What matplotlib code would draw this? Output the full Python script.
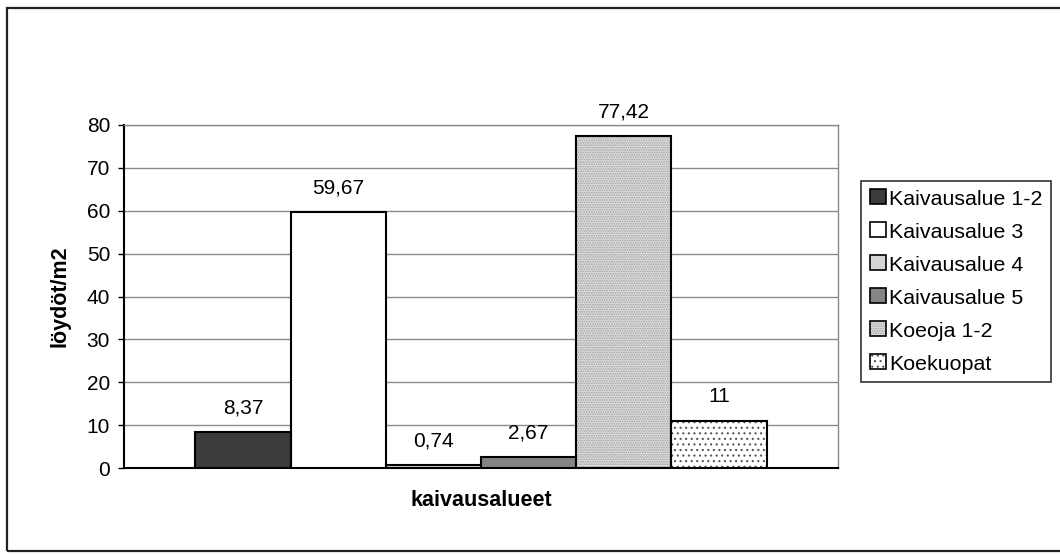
import matplotlib
matplotlib.use('Agg')
import matplotlib.pyplot as plt
from matplotlib.patches import Rectangle
from matplotlib.legend_handler import HandlerBase
import numpy as np

plt.rcParams['font.family'] = ['Liberation Sans', 'DejaVu Sans']
plt.rcParams['hatch.linewidth'] = 0.8

sarjat = ['Kaivausalue 1-2', 'Kaivausalue 3', 'Kaivausalue 4', 'Kaivausalue 5', 'Koeoja 1-2', 'Koekuopat']
arvot = [8.37, 59.67, 0.74, 2.67, 77.42, 11]
varit = ['#3c3c3c', '#ffffff', '#d4d4d4', '#858585', '#dcdcdc', '#ffffff']
kuviot = [None, None, None, None, '.......', '...']
kuvio_varit = ['black', 'black', 'black', 'black', '#a0a0a0', '#555555']
yticks = [0, 10, 20, 30, 40, 50, 60, 70, 80]

fig = plt.figure(figsize=(10.6, 5.55), dpi=100)
ax = fig.add_axes([124/1060, 1-468/555, (838-124)/1060, (468-125)/555])

# ulkokehys
fig.patches.append(Rectangle((7/1060, 1-551/555), 1.2, (551-8)/555, transform=fig.transFigure,
                             fill=False, edgecolor='#222222', linewidth=1.6))

x = np.arange(len(arvot)) - 2.5
for i in range(len(arvot)):
    ax.bar(x[i], arvot[i], width=1.0, color=varit[i], edgecolor=kuvio_varit[i],
           hatch=kuviot[i], linewidth=0, zorder=3)
    # musta reunaviiva erikseen
    ax.bar(x[i], arvot[i], width=1.0, fill=False, edgecolor='black', linewidth=1.5, zorder=4)
    teksti = ('%g' % arvot[i]).replace('.', ',')
    ax.text(x[i], arvot[i] + 5.6, teksti, ha='center', va='center', fontsize=15)

ax.set_xlim(-3.75, 3.75)
ax.set_ylim(0, 80)
ax.set_yticks(yticks)
ax.tick_params(axis='y', labelsize=15, length=4, width=1, pad=6)
ax.set_xticks([])
ax.yaxis.grid(True, color='#8a8a8a', linewidth=1, zorder=0)
ax.set_axisbelow(True)
for s in ['top', 'right']:
    ax.spines[s].set_color('#8a8a8a')
    ax.spines[s].set_linewidth(1)
for s in ['left', 'bottom']:
    ax.spines[s].set_color('black')
    ax.spines[s].set_linewidth(1.5)

ax.set_ylabel('löydöt/m2', fontsize=15.5, fontweight='bold', labelpad=12)
fig.text(481/1060, 1-501/555, 'kaivausalueet', fontsize=15.5, fontweight='bold', ha='center', va='center')

kahvat = []
for i in range(len(arvot)):
    kahvat.append(Rectangle((0, 0), 1, 1, facecolor=varit[i], edgecolor=kuvio_varit[i],
                            hatch=kuviot[i], linewidth=0))


class Kahva(HandlerBase):
    def create_artists(self, legend, orig, xd, yd, w, h, fontsize, trans):
        r = Rectangle((xd, yd), w, h, facecolor=orig.get_facecolor(), edgecolor=orig.get_edgecolor(),
                      hatch=orig.get_hatch(), linewidth=0, transform=trans)
        r2 = Rectangle((xd, yd), w, h, fill=False, edgecolor='black', linewidth=1.2, transform=trans)
        return [r, r2]


leg = fig.legend(kahvat, sarjat, loc='upper left', bbox_to_anchor=(861/1060, 1-181/555),
                 fontsize=15.4, frameon=True, fancybox=False, edgecolor='black',
                 handlelength=0.75, handleheight=0.75, handletextpad=0.15,
                 labelspacing=0.64, borderpad=0.4, borderaxespad=0,
                 handler_map={Rectangle: Kahva()})
leg.get_frame().set_linewidth(1.2)

fig.savefig('out.png', dpi=100)
